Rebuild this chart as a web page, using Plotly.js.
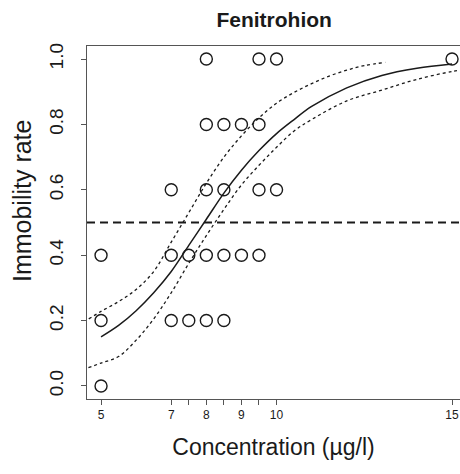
<!DOCTYPE html>
<html>
<head>
<meta charset="utf-8">
<script src="https://cdn.plot.ly/plotly-3.0.1.min.js"></script>
<style>
  html, body { margin: 0; padding: 0; background: #fff; }
  #chart { width: 460px; height: 474px; }
</style>
</head>
<body>
<div id="chart"></div>
<script>
// Observed immobility rates per concentration (µg/l)
const obsConc = [8, 9.5, 10, 15,
                 8, 8.5, 9, 9.5,
                 7, 8, 8.5, 9.5, 10,
                 5, 7, 7.5, 8, 8.5, 9, 9.5,
                 5, 7, 7.5, 8, 8.5,
                 5];
const obsRate = [1.0, 1.0, 1.0, 1.0,
                 0.8, 0.8, 0.8, 0.8,
                 0.6, 0.6, 0.6, 0.6, 0.6,
                 0.4, 0.4, 0.4, 0.4, 0.4, 0.4, 0.4,
                 0.2, 0.2, 0.2, 0.2, 0.2,
                 0.0];

// Fitted dose-response curve
const fitConc = [5, 5.5, 6, 6.5, 7, 7.5, 8, 8.5, 9, 9.5, 10, 10.5, 11, 12, 13, 14, 15];
const fitRate = [0.150, 0.185, 0.230, 0.285, 0.350, 0.430, 0.510, 0.590, 0.660, 0.720,
                 0.772, 0.815, 0.855, 0.912, 0.950, 0.972, 0.985];

// Upper confidence limit
const upperConc = [4.65, 5, 5.5, 6, 6.5, 7, 7.5, 8, 8.5, 9, 9.5, 10, 10.5, 11, 11.5, 12, 12.5, 13.1];
const upperRate = [0.205, 0.228, 0.258, 0.295, 0.350, 0.440, 0.530, 0.620, 0.700, 0.765,
                   0.820, 0.865, 0.898, 0.925, 0.948, 0.966, 0.980, 0.990];

// Lower confidence limit
const lowerConc = [4.64, 5, 5.5, 6, 6.5, 7, 7.5, 8, 8.5, 9, 9.5, 10, 10.5, 11, 12, 13, 14, 15, 15.3];
const lowerRate = [0.056, 0.070, 0.090, 0.140, 0.205, 0.285, 0.375, 0.460, 0.540, 0.615,
                   0.675, 0.730, 0.780, 0.815, 0.872, 0.905, 0.938, 0.962, 0.967];

// 50% response reference level
const halfLevel = [0.5];

// Axis ticks
const xTickVals = [5, 7, 7.5, 8, 8.5, 9, 9.5, 10, 15];
const xTickText = ['5', '7', '', '8', '', '9', '', '10', '15'];
const yTickVals = [0.0, 0.2, 0.4, 0.6, 0.8, 1.0];
const yTickText = ['0.0', '0.2', '0.4', '0.6', '0.8', '1.0'];

const ink = '#1a1a1a';
const font = 'Liberation Sans, Arial, Helvetica, sans-serif';

const traces = [
  {
    x: upperConc, y: upperRate, type: 'scatter', mode: 'lines',
    line: { color: ink, width: 1.3, dash: 'dot', shape: 'spline' },
    hoverinfo: 'skip'
  },
  {
    x: lowerConc, y: lowerRate, type: 'scatter', mode: 'lines',
    line: { color: ink, width: 1.3, dash: 'dot', shape: 'spline' },
    hoverinfo: 'skip'
  },
  {
    x: fitConc, y: fitRate, type: 'scatter', mode: 'lines',
    line: { color: ink, width: 1.5, shape: 'spline' },
    hoverinfo: 'skip'
  },
  {
    x: obsConc, y: obsRate, type: 'scatter', mode: 'markers',
    marker: { symbol: 'circle-open', size: 12, color: ink, line: { width: 1.4, color: ink } }
  }
];

const layout = {
  width: 460,
  height: 474,
  margin: { l: 87, r: 0, t: 46, b: 75 },
  paper_bgcolor: '#fff',
  plot_bgcolor: '#fff',
  showlegend: false,
  font: { family: font, color: ink },
  title: {
    text: '<b>Fenitrohion</b>',
    font: { family: font, size: 21, color: ink },
    xref: 'container', x: 0.596, xanchor: 'center',
    yref: 'container', y: 0.958, yanchor: 'middle'
  },
  xaxis: {
    range: [4.6, 15.227],
    tickmode: 'array', tickvals: xTickVals, ticktext: xTickText,
    ticks: 'outside', ticklen: 5, tickwidth: 1, tickcolor: '#555',
    tickfont: { size: 12, color: ink },
    showgrid: false, zeroline: false,
    showline: true, linecolor: '#555', linewidth: 1, mirror: true,
    title: { text: 'Concentration (µg/l)', font: { size: 23, color: ink }, standoff: 17 }
  },
  yaxis: {
    range: [-0.04, 1.04],
    tickmode: 'array', tickvals: yTickVals, ticktext: yTickText,
    ticks: 'outside', ticklen: 5, tickwidth: 1, tickcolor: '#555',
    tickangle: -90, ticklabelstandoff: 10,
    tickfont: { size: 19, color: ink },
    showgrid: false, zeroline: false,
    showline: true, linecolor: '#555', linewidth: 1, mirror: false
  },
  annotations: [{
    text: 'Immobility rate', textangle: -90,
    xref: 'paper', x: -0.174, xanchor: 'center',
    yref: 'paper', y: 0.561, yanchor: 'middle',
    showarrow: false,
    font: { family: font, size: 25, color: ink }
  }],
  shapes: [{
    type: 'line', xref: 'paper', x0: 0, x1: 1,
    yref: 'y', y0: halfLevel[0], y1: halfLevel[0],
    line: { color: ink, width: 2.2, dash: '8px,5px' }
  }]
};

Plotly.newPlot('chart', traces, layout, { displayModeBar: false, staticPlot: true });
</script>
</body>
</html>
